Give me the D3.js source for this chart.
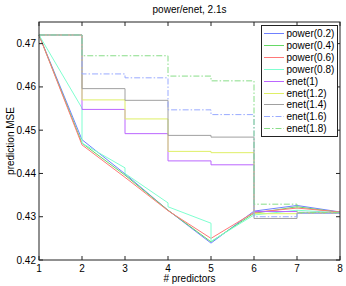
<!DOCTYPE html>
<html>
<head>
<meta charset="utf-8">
<script src="https://cdn.jsdelivr.net/npm/d3@7"></script>
<style>
  body { margin: 0; background: #fff; }
  text { font-family: "Liberation Sans", Arial, sans-serif; font-size: 10px; fill: #000; }
</style>
</head>
<body>
<svg id="chart"></svg>
<script>
// tick labels
const xTicks = [1, 2, 3, 4, 5, 6, 7, 8];
const yTicks = [0.42, 0.43, 0.44, 0.45, 0.46, 0.47];

// power series: [x, y] points (repeated x = vertical jump)
const power02 = [[1, 0.4720], [2, 0.4478], [3, 0.4399], [4, 0.4315], [5, 0.4239], [6, 0.4313], [7, 0.4326], [8, 0.4311]];
const power04 = [[1, 0.4720], [2, 0.4470], [3, 0.4396], [4, 0.4315], [5, 0.4242], [6, 0.4308], [7, 0.4323], [8, 0.4310]];
const power06 = [[1, 0.4720], [2, 0.4466], [3, 0.4391], [4, 0.4314], [5, 0.4250], [6, 0.4310], [7, 0.4320], [8, 0.4311]];
const power08 = [[1, 0.4720], [2, 0.4551], [2, 0.4470], [3, 0.4413], [3, 0.4400], [4, 0.4332], [4, 0.4323],
                 [5, 0.4285], [5, 0.4243], [6, 0.4304], [7, 0.4315], [8, 0.4309]];

// enet series: value held from x to x+1 (step)
const enet10 = [0.4720, 0.4548, 0.4492, 0.4429, 0.4420, 0.4312, 0.4310, 0.4310];
const enet12 = [0.4720, 0.4570, 0.4526, 0.4451, 0.4448, 0.4307, 0.4309, 0.4309];
const enet14 = [0.4720, 0.4596, 0.4569, 0.4488, 0.4484, 0.4296, 0.4308, 0.4308];
const enet16 = [0.4720, 0.4630, 0.4621, 0.4547, 0.4536, 0.4300, 0.4308, 0.4308];
const enet18 = [0.4720, 0.4672, 0.4672, 0.4625, 0.4614, 0.4329, 0.4310, 0.4310];

const seriesNames = ["power(0.2)", "power(0.4)", "power(0.6)", "power(0.8)",
                     "enet(1)", "enet(1.2)", "enet(1.4)", "enet(1.6)", "enet(1.8)"];
const seriesColors = ["#6f80ff", "#66d966", "#ff7878", "#7fffd0", "#bb66ff", "#dfef66", "#a0a0a0", "#99aaff", "#88dd88"];

const series = [
  {name: seriesNames[0], pts: power02, dash: null, step: false},
  {name: seriesNames[1], pts: power04, dash: null, step: false},
  {name: seriesNames[2], pts: power06, dash: null, step: false},
  {name: seriesNames[3], pts: power08, dash: null, step: false},
  {name: seriesNames[4], pts: enet10.map((v, i) => [xTicks[i], v]), dash: null, step: true},
  {name: seriesNames[5], pts: enet12.map((v, i) => [xTicks[i], v]), dash: null, step: true},
  {name: seriesNames[6], pts: enet14.map((v, i) => [xTicks[i], v]), dash: null, step: true},
  {name: seriesNames[7], pts: enet16.map((v, i) => [xTicks[i], v]), dash: "6,2,1.5,2", step: true},
  {name: seriesNames[8], pts: enet18.map((v, i) => [xTicks[i], v]), dash: "6,2,1.5,2", step: true}
];
series.forEach((s, i) => s.color = seriesColors[i]);

const width = 346, height = 286;
const svg = d3.select("#chart")
  .attr("width", width)
  .attr("height", height)
  .attr("viewBox", [0, 0, width, height]);

const x = d3.scaleLinear().domain([1, 8]).range([39, 340]);
const y = d3.scaleLinear().domain([0.42, 0.475]).range([260, 22]);

// lines
const lineLin = d3.line().x(d => x(d[0])).y(d => y(d[1]));
const lineStep = d3.line().x(d => x(d[0])).y(d => y(d[1])).curve(d3.curveStepAfter);

svg.append("g").selectAll("path")
  .data(series)
  .join("path")
    .attr("d", d => (d.step ? lineStep : lineLin)(d.pts))
    .attr("fill", "none")
    .attr("stroke", d => d.color)
    .attr("stroke-width", 1)
    .attr("stroke-dasharray", d => d.dash);

// box + ticks
const tickLen = 4;
const axes = svg.append("g");
axes.append("rect")
  .attr("x", x(1)).attr("y", y(0.475))
  .attr("width", x(8) - x(1)).attr("height", y(0.42) - y(0.475))
  .attr("fill", "none").attr("stroke", "#222").attr("stroke-width", 1);

axes.selectAll(".xt").data(xTicks).join("path")
  .attr("class", "xt")
  .attr("d", d => `M${x(d)},${y(0.42)}v${-tickLen}M${x(d)},${y(0.475)}v${tickLen}`)
  .attr("stroke", "#222");
axes.selectAll(".yt").data(yTicks).join("path")
  .attr("class", "yt")
  .attr("d", d => `M${x(1)},${y(d)}h${tickLen}M${x(8)},${y(d)}h${-tickLen}`)
  .attr("stroke", "#222");

axes.selectAll(".xl").data(xTicks).join("text")
  .attr("class", "xl")
  .attr("x", d => x(d)).attr("y", y(0.42) + 12)
  .attr("text-anchor", "middle")
  .text(d => d);
axes.selectAll(".yl").data(yTicks).join("text")
  .attr("class", "yl")
  .attr("x", x(1) - 3).attr("y", d => y(d)).attr("dy", "0.35em")
  .attr("text-anchor", "end")
  .text(d => d3.format(".2f")(d));

svg.append("text")
  .attr("x", (x(1) + x(8)) / 2).attr("y", 13)
  .attr("text-anchor", "middle")
  .text("power/enet, 2.1s");
svg.append("text")
  .attr("x", (x(1) + x(8)) / 2).attr("y", 282)
  .attr("text-anchor", "middle")
  .text("# predictors");
svg.append("text")
  .attr("transform", `translate(13.5,${(y(0.42) + y(0.475)) / 2}) rotate(-90)`)
  .attr("text-anchor", "middle")
  .text("prediction MSE");

// legend
const lgX = 261, lgY = 25;
svg.append("rect")
  .attr("x", lgX + 0.5).attr("y", lgY + 0.5)
  .attr("width", 76).attr("height", 111)
  .attr("fill", "#fff").attr("stroke", "#222");
const rowY = (i) => lgY + Math.round(8 + i * 11.9);
svg.selectAll(".lgline").data(series).join("line")
  .attr("class", "lgline")
  .attr("x1", lgX + 3).attr("x2", lgX + 23)
  .attr("y1", (d, i) => rowY(i) + 0.5).attr("y2", (d, i) => rowY(i) + 0.5)
  .attr("stroke", d => d.color)
  .attr("stroke-width", 1)
  .attr("stroke-dasharray", d => d.dash);
svg.selectAll(".lgtext").data(series).join("text")
  .attr("class", "lgtext")
  .attr("x", lgX + 25.5).attr("y", (d, i) => rowY(i) + 0.5).attr("dy", "0.35em")
  .text(d => d.name);
</script>
</body>
</html>
